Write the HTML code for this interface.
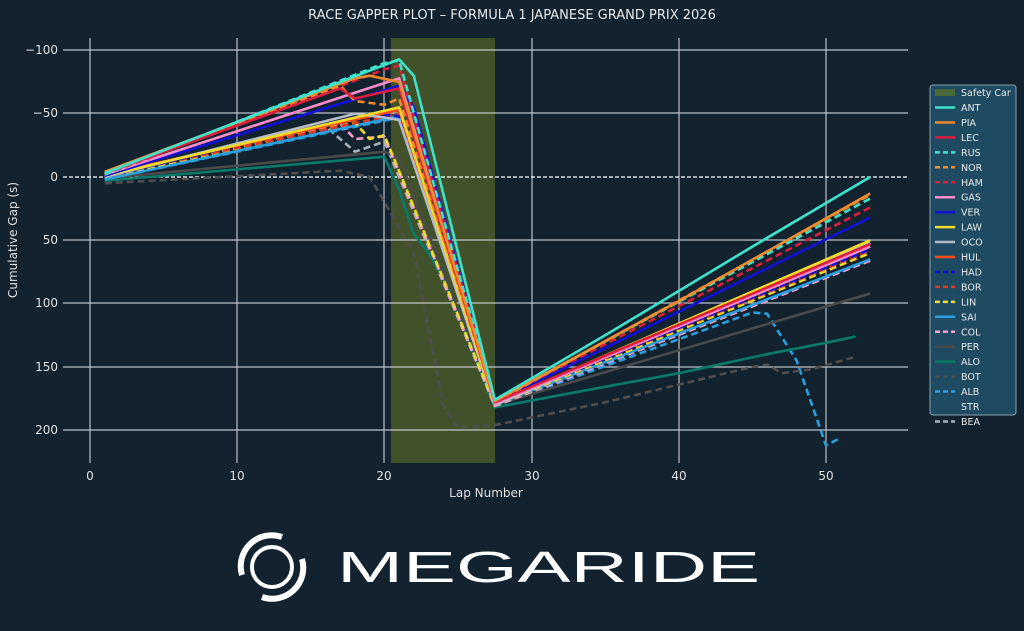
<!DOCTYPE html>
<html><head><meta charset="utf-8">
<style>
html,body{margin:0;padding:0;background:#12222f;}
svg{display:block;font-family:"DejaVu Sans","Liberation Sans",sans-serif;}
</style></head><body>
<svg id="s" width="1024" height="631" viewBox="0 0 1024 631" xmlns="http://www.w3.org/2000/svg">
<rect width="1024" height="631" fill="#12222f"/>
<text x="512" y="19" fill="#e8e8e8" font-size="13" text-anchor="middle">RACE GAPPER PLOT – FORMULA 1 JAPANESE GRAND PRIX 2026</text>
<rect x="391" y="38" width="104" height="425" fill="#4a5a2a" opacity="0.85"/>
<g stroke="#d0d4d8" stroke-width="1.2" opacity="0.9">
<line x1="90" y1="38" x2="90" y2="463"/><line x1="237" y1="38" x2="237" y2="463"/><line x1="384" y1="38" x2="384" y2="463"/><line x1="532" y1="38" x2="532" y2="463"/><line x1="679" y1="38" x2="679" y2="463"/><line x1="826" y1="38" x2="826" y2="463"/>
<line x1="63" y1="50" x2="908" y2="50"/><line x1="63" y1="113" x2="908" y2="113"/><line x1="63" y1="240" x2="908" y2="240"/><line x1="63" y1="303" x2="908" y2="303"/><line x1="63" y1="367" x2="908" y2="367"/><line x1="63" y1="430" x2="908" y2="430"/>
</g>
<line x1="63" y1="177" x2="908" y2="177" stroke="#fff" stroke-width="1.2" stroke-dasharray="4,2"/>
<g fill="#e0e0e0" font-size="12" text-anchor="end">
<text x="58" y="54">−100</text><text x="58" y="117">−50</text><text x="58" y="181">0</text><text x="58" y="244">50</text><text x="58" y="307">100</text><text x="58" y="371">150</text><text x="58" y="434">200</text>
</g>
<g fill="#e0e0e0" font-size="12" text-anchor="middle">
<text x="90" y="480">0</text><text x="237" y="480">10</text><text x="384" y="480">20</text><text x="532" y="480">30</text><text x="679" y="480">40</text><text x="826" y="480">50</text>
<text x="486" y="497">Lap Number</text>
<text transform="translate(17,240) rotate(-90)">Cumulative Gap (s)</text>
</g>
<g id="lines" fill="none" stroke-width="2.6" stroke-linejoin="round"></g>
<rect x="930" y="85" width="86" height="330" rx="3" fill="#1f4b62" stroke="#8aa0b0" stroke-width="1"/>
<g id="leg" font-size="9.5" fill="#e8e8e8"></g>
<g transform="translate(272,567)" fill="none" stroke="#fff">
<circle r="20" stroke-width="4"/>
<path d="M-30,8 A31,31 0 0 1 10,-30" stroke-width="6"/>
<path d="M30,-8 A31,31 0 0 1 -10,30" stroke-width="6"/>
</g>
<text x="337" y="582" fill="#fff" font-size="44" font-family="Liberation Sans,sans-serif" textLength="423" lengthAdjust="spacingAndGlyphs">MEGARIDE</text>
<script>
var X=l=>90+14.72*l, Y=v=>177+1.266*v;
var S=[
["ANT","#3fe3cc",0,[[1,-3],[21,-93],[22,-80],[27.5,176],[35,125],[45,55],[53,0]]],
["PIA","#f08a2a",0,[[1,-4],[18,-78],[19,-80],[21,-75],[27.5,177],[40,98],[53,13]]],
["LEC","#dc1e3c",0,[[1,-3],[17,-70],[18,-62],[21,-70],[27.5,178],[53,53]]],
["RUS","#3fe3cc",1,[[1,-2],[20,-90],[21,-92],[27.5,177],[53,17]]],
["NOR","#f08a2a",1,[[1,-3],[17,-72],[18,-60],[20,-57],[21,-62],[27.5,178],[53,14]]],
["HAM","#dc1e3c",1,[[1,-2],[20,-85],[21,-88],[27.5,177],[53,24]]],
["GAS","#ff8ccc",0,[[1,-2],[21,-78],[27.5,179],[53,55]]],
["VER","#1010d8",0,[[1,-1],[21,-72],[22,-55],[27.5,178],[53,32]]],
["LAW","#f0dc28",0,[[1,-1],[21,-55],[27.5,179],[53,50]]],
["OCO","#b4bcc8",0,[[1,0],[18,-50],[20,-47],[21,-45],[27.5,180],[53,52]]],
["HUL","#ff4a1a",0,[[1,-2],[21,-53],[27.5,179],[53,53]]],
["HAD","#1010d8",1,[[1,0],[19,-50],[21,-48],[27.5,179],[53,57]]],
["BOR","#e03828",1,[[1,-1],[19,-45],[21,-50],[27.5,179],[53,58]]],
["LIN","#f0dc28",1,[[1,0],[18,-43],[19,-30],[20,-33],[27.5,180],[53,60]]],
["SAI","#2aa0e0",0,[[1,2],[21,-48],[27.5,180],[53,65]]],
["COL","#ff9ccc",1,[[1,0],[17,-42],[18,-30],[20,-32],[27.5,181],[53,66]]],
["PER","#4a4a4a",0,[[1,1],[20,-20],[21,-15],[27.5,180],[53,92]]],
["ALO","#087a6a",0,[[1,3],[20,-16],[21,10],[22,45],[23,60],[24,80],[27.5,182],[33,170],[40,155],[46,140],[50,131],[52,126]]],
["BOT","#4e4e4e",1,[[1,5],[17,-5],[19,0],[20,20],[22,60],[23,120],[24,180],[25,198],[27.5,196],[35,178],[45,150],[46,148],[47,155],[49,152],[52,142]]],
["ALB","#2aa0e0",1,[[1,2],[21,-47],[27.5,181],[45,107],[46,108],[48,145],[50,212],[51,206]]],
["STR","#12222f",0,null],
["BEA","#a8b0b8",1,[[1,2],[16,-40],[17,-30],[18,-20],[20,-28],[27.5,181],[53,66]]]
];
var g=document.getElementById("lines"),lg=document.getElementById("leg"),ns="http://www.w3.org/2000/svg";
function mk(t,a){var e=document.createElementNS(ns,t);for(var k in a)e.setAttribute(k,a[k]);return e;}
S.slice().reverse().forEach(function(s){ if(!s[3])return;
 g.appendChild(mk("polyline",{points:s[3].map(p=>X(p[0]).toFixed(1)+","+Y(p[1]).toFixed(1)).join(" "),stroke:s[1],"stroke-dasharray":s[2]?"7,4":"none"}));
});
lg.appendChild(mk("rect",{x:935,y:89,width:20,height:7,fill:"#4a6a3a"}));
var t=mk("text",{x:961,y:96});t.textContent="Safety Car";lg.appendChild(t);
S.forEach(function(s,i){var y=107.5+i*14.95;
 if(s[3]) lg.appendChild(mk("line",{x1:935,x2:955,y1:y,y2:y,stroke:s[1],"stroke-width":2.5,"stroke-dasharray":s[2]?"5,3":"none"}));
 var t=mk("text",{x:961,y:y+3.5});t.textContent=s[0];lg.appendChild(t);});
</script>
</svg>
</body></html>
